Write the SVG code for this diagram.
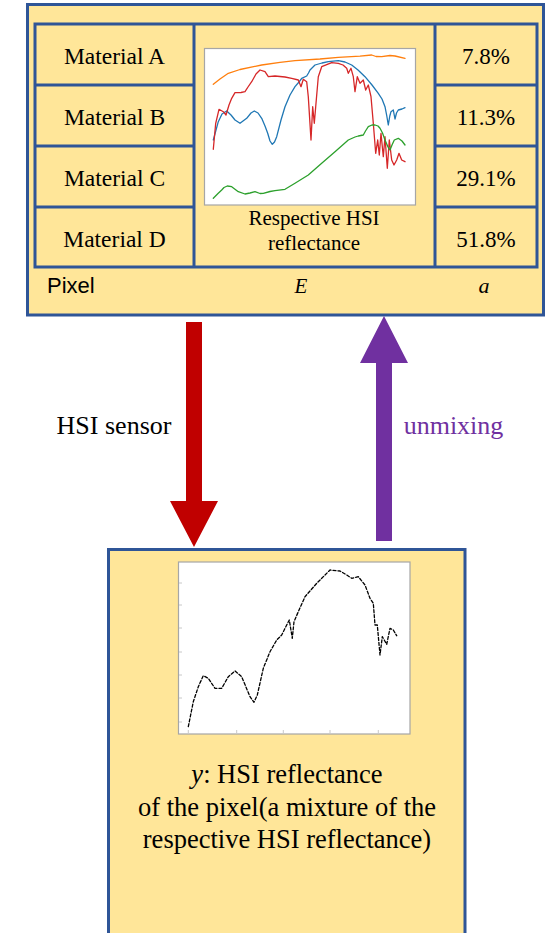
<svg xmlns="http://www.w3.org/2000/svg" width="548" height="933" viewBox="0 0 548 933">
<style>
.box{fill:#FFE699;stroke:#2F5597;stroke-width:3}
.ln{stroke:#2F5597;stroke-width:3;fill:none}
.chart{fill:#FFFFFF;stroke:#A6A6A6;stroke-width:1.2}
.t{font-family:'Liberation Serif','Times New Roman',serif;fill:#000;text-anchor:middle}
.m{font-size:23.5px}
.p{font-size:23px}
.c{fill:none;stroke-width:1.3;stroke-linejoin:round;stroke-linecap:round}
.tick{stroke:#C8C8C8;stroke-width:1}
</style>
<rect width="548" height="933" fill="#FFFFFF"/>
<g id="pixel-node">
  <rect class="box" x="27.5" y="4.5" width="516" height="310.5"/>
  <g id="table">
    <rect class="ln" x="35" y="24" width="502" height="243"/>
    <line class="ln" x1="194" y1="24" x2="194" y2="267"/>
    <line class="ln" x1="435" y1="24" x2="435" y2="267"/>
    <line class="ln" x1="35" y1="85" x2="194" y2="85"/>
    <line class="ln" x1="35" y1="146" x2="194" y2="146"/>
    <line class="ln" x1="35" y1="207" x2="194" y2="207"/>
    <line class="ln" x1="435" y1="85" x2="537" y2="85"/>
    <line class="ln" x1="435" y1="146" x2="537" y2="146"/>
    <line class="ln" x1="435" y1="207" x2="537" y2="207"/>
  </g>
  <g id="materials">
    <text class="t m" x="114.5" y="64">Material A</text>
    <text class="t m" x="114.5" y="125">Material B</text>
    <text class="t m" x="114.5" y="186">Material C</text>
    <text class="t m" x="114.5" y="247">Material D</text>
  </g>
  <g id="abundances">
    <text class="t p" x="486" y="64">7.8%</text>
    <text class="t p" x="486" y="125">11.3%</text>
    <text class="t p" x="486" y="186">29.1%</text>
    <text class="t p" x="486" y="247">51.8%</text>
  </g>
  <g id="endmember-chart">
    <rect class="chart" x="204.5" y="48.5" width="211" height="156.5"/>
    <polyline class="c" stroke="#ff7f0e" points="213.3,84.3 220,79 228.3,73.3 240,69.5 261.7,65 280,62.3 295,60.7 320,59 338.3,57.3 360,56.2 371.7,55 376,56.5 381.7,56.7 390,55.5 395,56 405,58.3"/>
    <polyline class="c" stroke="#1f77b4" points="213.3,140 218.3,121.7 222,114 226.7,111 231,115 235,120 240,123.3 246.7,118.3 251,113 254.3,111 258,113 261.7,118.3 265,126 267.7,133.3 270,141 272.3,144.3 274.5,142 276.7,136.7 281,120 285,106.7 290,95 295,86.7 299,82 301.7,78.3 306.7,76 308.5,73 310,70 315,65 322,63 328.3,61.7 338.3,60.7 345,62 351.7,65 358,70 365,76.7 372,85 378.3,93.3 382,99 385,106.7 386.8,116 388.3,125 389.8,116 391,111.7 393.3,110 395,119 396.5,113 398.3,110 402,109 405,107.7"/>
    <polyline class="c" stroke="#d62728" points="213.3,149.3 215.7,123.3 219,109.3 223.3,111.7 226,115 229,105 231.7,98.3 235,92.7 241,92.5 245,91.7 248,87 251.7,81.7 256,74 260,70 265,71.7 268.3,76.7 275,76 285,77 291.7,78.3 298.3,80 301,86.7 303.3,79.3 306.7,81.7 308.3,96.7 311,140 312.7,106.7 314.3,123.3 315.7,106.7 318.3,76.7 321.7,66.7 331.7,62.7 338.3,63.3 343,65 346.7,68.3 348.3,73.3 351,68.3 353.3,76.7 355,91.7 357.3,76.7 360,83.3 363.3,80 365.7,90 368.3,85 371,96.7 373.3,123.3 375.7,153.3 377.7,140 379.3,155 381,133.3 383.3,156.7 385,136.7 387.3,168.3 389.3,140 391.7,160 394,165 396.7,160 399,153.3 401.7,160 405,161.7"/>
    <polyline class="c" stroke="#2ca02c" points="213.3,198.3 218,193.5 221.7,190 224,187.5 227.3,186 231.7,186.7 238.3,191.7 245,194 250,193 255,191.7 260,193.5 263.3,193.3 270,191.5 275,190.7 285,189.3 295,183.3 308.3,175 321.7,163.3 335,151.7 348.3,140 355,137 358.3,136 363.3,135 365.5,131 368.3,126.7 372,125 375,125 378,126 380,128.3 382.5,133 385,140 388,147 390,150 392,145 394.3,140 398.3,138.3 402,141 405,145"/>
  </g>
  <text class="t" x="314" y="225" font-size="21px">Respective HSI</text>
  <text class="t" x="314" y="250" font-size="21px">reflectance</text>
  <text x="47" y="293" font-family="'Liberation Sans',Arial,sans-serif" font-size="22px" fill="#000">Pixel</text>
  <text class="t" x="301" y="293" font-size="21px" font-style="italic">E</text>
  <text class="t" x="484" y="293" font-size="22px" font-style="italic">a</text>
</g>
<g id="mixture-node">
  <rect class="box" x="108.5" y="549.5" width="356.5" height="400"/>
  <rect class="chart" x="178.5" y="562" width="231.5" height="172"/>
  <g id="ticks">
    <line class="tick" x1="188.3" y1="733" x2="188.3" y2="730"/>
    <line class="tick" x1="236.7" y1="733" x2="236.7" y2="730"/>
    <line class="tick" x1="283.3" y1="733" x2="283.3" y2="730"/>
    <line class="tick" x1="330" y1="733" x2="330" y2="730"/>
    <line class="tick" x1="378.3" y1="733" x2="378.3" y2="730"/>
    <line class="tick" x1="179" y1="583" x2="182" y2="583"/>
    <line class="tick" x1="179" y1="605" x2="182" y2="605"/>
    <line class="tick" x1="179" y1="628" x2="182" y2="628"/>
    <line class="tick" x1="179" y1="652" x2="182" y2="652"/>
    <line class="tick" x1="179" y1="675" x2="182" y2="675"/>
    <line class="tick" x1="179" y1="698" x2="182" y2="698"/>
    <line class="tick" x1="179" y1="722" x2="182" y2="722"/>
  </g>
  <polyline class="c" stroke="#000" stroke-width="1.2" stroke-dasharray="3,2" points="188.3,726.7 193.3,701.7 198.3,686.7 203.3,675.7 208.3,678.3 215,688.3 221.7,688.3 228.3,676.7 235,671 241.7,676.7 250,696.7 254,702.3 257.3,695 263.3,668.3 270,651.7 276.7,640 281.7,635 286.7,625 289.3,620 292.3,638.3 294,621.7 298.3,611.7 305,596.7 316.7,583.3 330,570 340,571 346.7,575 351.7,578.3 358.3,576.7 365,585 370,598.3 373.3,603.3 375,625 377.3,625 380,655 382.3,636.7 386.7,644.3 390,628.3 393.3,630 396.7,635.7"/>
  <text class="t" x="287" y="783" font-size="26.5px"><tspan font-style="italic">y</tspan>: HSI reflectance</text>
  <text class="t" x="287" y="816" font-size="26.5px">of the pixel(a mixture of the</text>
  <text class="t" x="287" y="848" font-size="26.5px">respective HSI reflectance)</text>
</g>
<g id="connectors">
  <polygon fill="#C00000" points="186,322 202,322 202,501 218,501 194,547 170,501 186,501"/>
  <polygon fill="#7030A0" points="384,316 408,363 392,363 392,541 376,541 376,363 360,363"/>
  <text class="t" x="114" y="434" font-size="26px">HSI sensor</text>
  <text class="t" x="453.5" y="434" font-size="26px" style="fill:#7030A0">unmixing</text>
</g>
</svg>
